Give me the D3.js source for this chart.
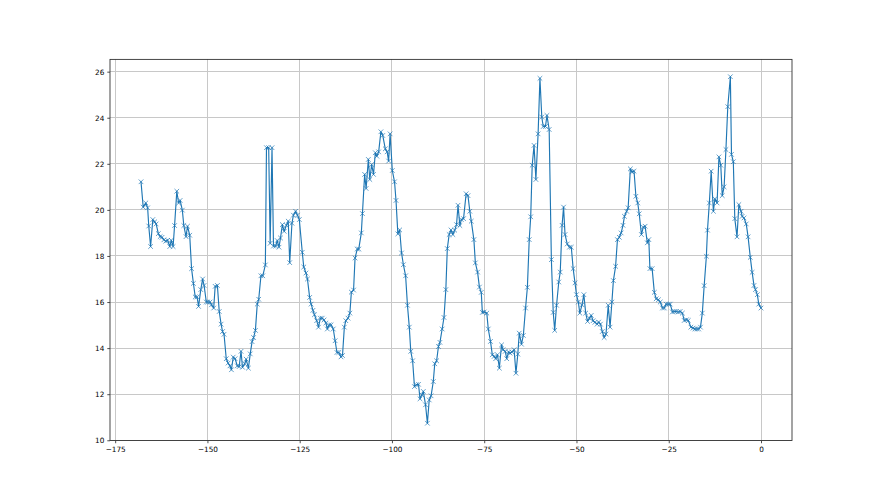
<!DOCTYPE html>
<html><head><meta charset="utf-8">
<script src="https://cdn.jsdelivr.net/npm/d3@7"></script>
<style>
body{margin:0;background:#fff}
svg{display:block}
</style>
</head><body>
<svg id="c" width="880" height="495"></svg>
<script>
const xs=[-168.0,-167.4,-166.7,-166.2,-165.9,-165.4,-164.8,-164.3,-163.9,-163.3,-162.8,-162.3,-161.8,-161.3,-160.8,-160.2,-159.8,-159.3,-158.9,-158.3,-157.8,-157.4,-156.8,-156.4,-155.8,-155.4,-154.8,-154.3,-153.8,-153.3,-152.8,-152.4,-151.8,-151.3,-150.9,-150.3,-149.9,-149.3,-148.9,-148.3,-147.9,-147.3,-146.8,-146.3,-145.9,
-145.5,-144.9,-144.4,-143.9,-143.5,-143.0,-142.5,-141.9,-141.4,-140.9,-140.5,-139.9,-139.5,-138.9,-138.4,-137.9,-137.5,-137.0,-136.5,-136.1,-135.5,-135.0,-134.3,-134.0,-133.4,-133.0,-132.5,-132.1,-131.5,-131.1,-130.6,-130.2,-129.7,-129.2,-128.6,-128.1,-127.7,-127.1,-126.7,-126.1,-125.6,-125.1,-124.3,-123.9,-123.3,-122.9,-122.3,
-121.9,-121.4,-121.0,-120.4,-119.9,-119.4,-118.9,-118.4,-117.9,-117.5,-117.0,-116.5,-115.9,-115.4,-114.9,-114.4,-113.8,-113.4,-112.9,-112.5,-111.9,-111.4,-111.0,-110.4,-110.0,-109.4,-109.0,-108.3,-108.0,-107.4,-107.0,-106.4,-106.0,-105.5,-105.0,-104.5,-104.1,-103.6,-103.0,-102.5,-101.8,-101.3,-100.9,-100.5,-99.9,-99.3,-98.9,
-98.4,-97.9,-97.4,-96.9,-96.3,-95.8,-95.3,-94.9,-94.4,-93.9,-93.4,-92.8,-92.4,-91.9,-91.5,-90.9,-90.4,-89.9,-89.4,-88.8,-88.4,-87.9,-87.4,-87.0,-86.4,-85.9,-85.4,-85.0,-84.5,-84.0,-83.5,-83.0,-82.5,-82.1,-81.6,-81.2,-80.6,-79.9,-79.4,-78.9,-78.5,-77.8,-77.4,-76.8,-76.3,
-75.8,-75.5,-75.0,-74.3,-73.9,-73.3,-72.8,-72.3,-71.9,-71.4,-70.9,-70.3,-69.9,-69.3,-68.9,-68.4,-68.0,-67.5,-66.9,-66.4,-65.9,-65.5,-64.9,-64.4,-63.8,-63.3,-62.8,-62.4,-62.0,-61.5,-61.0,-60.4,-59.9,-59.4,-59.0,-58.4,-58.0,-57.4,-56.8,-56.3,-55.9,-55.4,-54.8,-54.4,-53.9,-53.5,
-53.1,-52.5,-51.9,-51.4,-50.9,-50.4,-50.0,-49.5,-49.1,-48.5,-48.0,-47.5,-47.0,-46.5,-46.0,-45.5,-45.0,-44.4,-44.0,-43.5,-43.0,-42.5,-42.0,-41.4,-40.9,-40.4,-40.0,-39.4,-38.9,-38.4,-37.9,-37.4,-37.0,-36.4,-36.0,-35.4,-35.0,-34.4,-33.9,-33.4,-33.0,-32.4,-31.9,-31.4,-30.8,-30.4,-30.1,
-29.5,-28.9,-28.4,-27.8,-27.3,-26.7,-26.2,-25.7,-25.1,-24.6,-24.0,-23.5,-23.0,-22.4,-21.9,-21.3,-20.8,-20.2,-19.7,-19.0,-18.4,-17.9,-17.4,-16.9,-16.4,-15.9,-15.4,-14.8,-14.5,-14.0,-13.5,-12.9,-12.5,-11.9,-11.4,-10.9,-10.5,-10.0,-9.5,-9.0,-8.3,
-8.0,-7.5,-7.1,-6.5,-6.0,-5.4,-5.1,-4.6,-4.0,-3.5,-2.9,-2.4,-1.9,-1.5,-1.0,-0.6,0.0];
const ys=[21.22,20.12,20.30,20.09,19.30,18.41,19.58,19.48,19.39,18.97,18.84,18.81,18.70,18.64,18.68,18.41,18.68,18.41,19.32,20.81,20.30,20.41,19.99,19.32,18.84,19.29,18.90,17.45,16.81,16.22,16.22,15.81,16.54,17.00,16.72,16.00,16.00,16.00,15.88,15.74,16.68,16.72,15.59,15.04,14.72,
14.60,13.54,13.35,13.23,13.06,13.61,13.54,13.23,13.20,13.86,13.17,13.32,13.52,13.13,13.75,14.28,14.46,14.77,15.91,16.12,17.14,17.14,17.61,22.70,22.70,18.55,22.70,18.43,18.43,18.67,18.38,18.78,19.36,19.07,19.33,19.51,17.71,19.42,19.77,19.94,19.77,19.58,18.16,17.52,17.26,17.00,16.20,
15.91,15.64,15.45,15.19,14.91,15.30,15.30,15.22,15.09,14.83,15.01,15.01,14.83,14.32,13.81,13.81,13.62,13.68,14.91,15.19,15.30,15.52,16.43,16.52,17.91,18.30,18.30,19.00,19.84,21.54,20.93,22.19,21.32,21.97,21.54,22.48,22.33,22.52,23.39,23.23,22.65,22.52,22.12,23.30,21.71,21.22,20.41,
18.96,19.13,18.13,17.62,17.14,15.86,14.91,13.86,13.45,12.33,12.41,12.43,11.80,11.97,12.12,11.54,10.74,11.75,11.93,12.55,13.32,13.45,14.07,14.25,14.83,15.33,16.54,18.32,18.93,19.13,18.93,19.12,19.36,20.20,19.32,19.58,19.62,20.70,20.62,19.94,19.51,18.71,17.70,17.30,16.65,
16.42,15.55,15.57,15.52,14.83,14.29,13.71,13.64,13.54,13.71,13.13,14.14,13.93,13.86,13.54,13.83,13.78,13.83,13.93,12.91,13.74,14.65,14.17,14.55,15.74,16.64,18.71,19.70,21.94,22.80,21.32,23.30,25.71,24.03,23.62,23.62,24.10,23.49,17.84,15.55,14.77,15.86,16.87,17.30,19.33,20.12,
18.93,18.52,18.38,18.38,17.45,16.83,16.32,16.00,15.52,15.88,16.32,15.52,15.16,15.30,15.42,15.19,15.12,15.04,15.13,15.04,14.72,14.46,14.61,15.86,14.91,16.00,16.93,17.55,18.71,18.81,19.00,19.33,19.72,19.94,20.09,21.78,21.65,21.68,20.59,20.30,19.83,18.93,19.25,19.29,18.57,18.71,17.45,
17.45,16.42,16.14,16.10,16.00,15.74,15.74,15.91,15.91,15.91,15.57,15.59,15.59,15.57,15.59,15.52,15.20,15.23,15.20,14.91,14.87,14.83,14.83,14.83,14.91,15.52,16.71,17.99,19.12,20.30,21.68,19.94,20.48,20.30,22.30,21.94,20.62,21.00,22.62,24.48,25.78,
22.41,22.09,19.62,18.83,20.23,19.94,19.72,19.65,19.39,18.83,17.94,17.29,16.72,16.54,16.32,15.91,15.74];
const xTicks=[-175,-150,-125,-100,-75,-50,-25,0];
const yTicks=[10,12,14,16,18,20,22,24,26];

const L=110,R=792,T=59.4,B=440.55;
const xe=d3.extent(xs), ye=d3.extent(ys);
const mx=(xe[1]-xe[0])*0.05, my=(ye[1]-ye[0])*0.05;
const x=d3.scaleLinear().domain([xe[0]-mx,xe[1]+mx]).range([L,R]);
const y=d3.scaleLinear().domain([ye[0]-my,ye[1]+my]).range([B,T]);
const svg=d3.select("#c");
svg.append("rect").attr("width",880).attr("height",495).attr("fill","#fff");

// grid
const g=svg.append("g").attr("shape-rendering","crispEdges");
g.selectAll("line.gx").data(xTicks).join("line").attr("class","gx")
 .attr("x1",d=>x(d)).attr("x2",d=>x(d)).attr("y1",T).attr("y2",B)
 .attr("stroke","#c8c8c8").attr("stroke-width",1);
g.selectAll("line.gy").data(yTicks).join("line").attr("class","gy")
 .attr("y1",d=>y(d)).attr("y2",d=>y(d)).attr("x1",L).attr("x2",R)
 .attr("stroke","#c8c8c8").attr("stroke-width",1);

const data=xs.map((v,i)=>[v,ys[i]]);
svg.append("clipPath").attr("id","cp").append("rect")
 .attr("x",L).attr("y",T).attr("width",R-L).attr("height",B-T);
const plot=svg.append("g").attr("clip-path","url(#cp)");
plot.append("path").datum(data)
 .attr("d",d3.line().x(d=>x(d[0])).y(d=>y(d[1])))
 .attr("fill","none").attr("stroke","#1f77b4").attr("stroke-width",1.15)
 .attr("stroke-linejoin","round").attr("stroke-linecap","square");
plot.selectAll("path.m").data(data).join("path").attr("class","m")
 .attr("transform",d=>`translate(${x(d[0])},${y(d[1])})`)
 .attr("d","M-2.3,-2.3L2.3,2.3M-2.3,2.3L2.3,-2.3")
 .attr("stroke","#1f77b4").attr("stroke-width",0.7).attr("fill","none");

// axes
const fmt=d3.format("d");
const ax=svg.append("g").attr("transform",`translate(0,${B})`)
 .call(d3.axisBottom(x).tickValues(xTicks).tickSize(2.7).tickPadding(3.6).tickFormat(fmt));
const ay=svg.append("g").attr("transform",`translate(${L},0)`)
 .call(d3.axisLeft(y).tickValues(yTicks).tickSize(2.7).tickPadding(3).tickFormat(fmt));
[ax,ay].forEach(a=>{
  a.select(".domain").remove();
  a.selectAll(".tick line").attr("stroke","#222").attr("stroke-width",0.8);
  a.selectAll(".tick text").attr("font-family","DejaVu Sans").attr("font-size",7.3).attr("fill","#000");
});
svg.append("rect").attr("x",L).attr("y",T).attr("width",R-L).attr("height",B-T)
 .attr("fill","none").attr("stroke","#333").attr("stroke-width",0.9);
</script>
</body></html>
